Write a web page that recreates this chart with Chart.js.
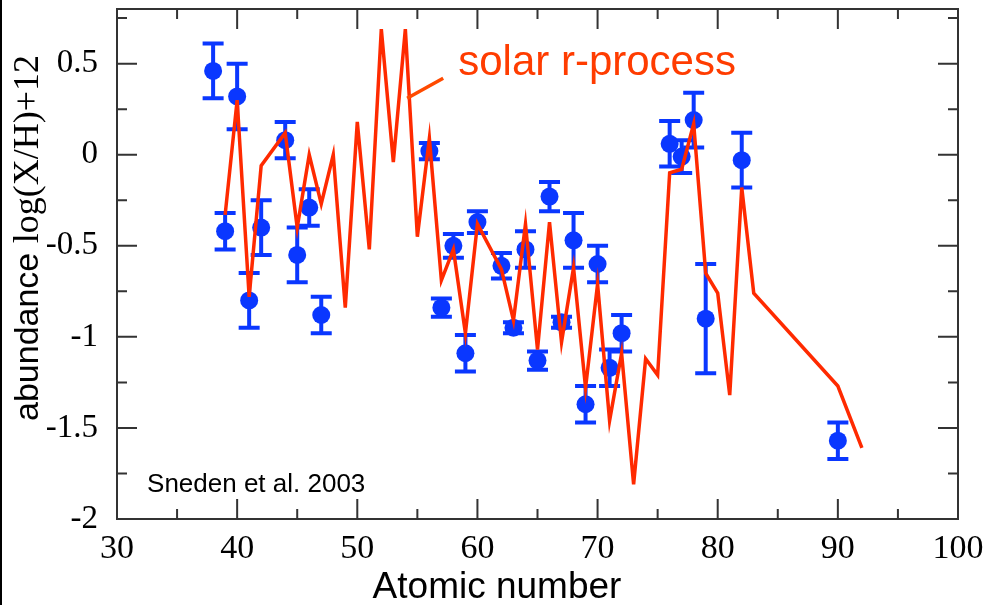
<!DOCTYPE html>
<html>
<head>
<meta charset="utf-8">
<script src="https://cdn.jsdelivr.net/npm/chart.js@4.4.1/dist/chart.umd.min.js"></script>
<style>
  body { margin: 0; background: #fff; }
  canvas { display: block; }
</style>
</head>
<body>
<canvas id="abundanceChart" width="990" height="605"></canvas>
<script>
// solar r-process pattern (red line)
const solarZ = [39, 40, 41, 42, 44, 45, 46, 47, 48, 49, 50, 51, 52, 53, 54, 55, 56, 57, 58, 59, 60,
  62, 63, 64, 65, 66, 67, 68, 69, 70, 71, 72, 73, 74, 75, 76, 77, 78, 79, 80, 81, 82, 83, 90, 92];
const solarVal = [-0.33, 0.30, -0.78, -0.06, 0.12, -0.40, 0.00, -0.27, 0.00, -0.84, 0.18, -0.52, 0.69, -0.04, 0.69, -0.45, 0.09, -0.69, -0.52, -0.98, -0.38,
  -0.63, -0.91, -0.38, -1.07, -0.37, -1.03, -0.62, -1.28, -0.71, -1.46, -1.09, -1.81, -1.12, -1.21, -0.10, -0.08, 0.17, -0.65, -0.76, -1.32, -0.18, -0.76, -1.27, -1.61];

// observed abundances (blue points with error bars)
const obsZ = [38, 39, 40, 41, 42, 44, 45, 46, 47, 56, 57, 58, 59, 60, 62, 63, 64, 65, 66, 67, 68, 69, 70, 71, 72, 76, 77, 78, 79, 82, 90];
const obsVal = [0.46, -0.42, 0.32, -0.80, -0.40, 0.08, -0.55, -0.29, -0.88, 0.02, -0.84, -0.50, -1.09, -0.37, -0.61, -0.95, -0.52, -1.13, -0.23, -0.92,
  -0.47, -1.37, -0.60, -1.17, -0.98, 0.06, -0.01, 0.19, -0.90, -0.03, -1.57];
const obsErr = [0.15, 0.10, 0.18, 0.15, 0.15, 0.10, 0.15, 0.10, 0.10, 0.045, 0.05, 0.065, 0.10, 0.06, 0.07, 0.03, 0.10, 0.05, 0.08, 0.03,
  0.15, 0.10, 0.10, 0.10, 0.10, 0.125, 0.09, 0.15, 0.30, 0.15, 0.10];

// axis ticks
const xTicks = [30, 40, 50, 60, 70, 80, 90, 100];
const xMinor = [35, 45, 55, 65, 75, 85, 95];
const yTicks = [-2, -1.5, -1, -0.5, 0, 0.5];
const yMinor = [-1.75, -1.25, -0.75, -0.25, 0.25, 0.75];

const RED = "#ff2a00";
const BLUE = "#0a37ff";
const SERIF = "'Liberation Serif', 'Times New Roman', serif";
const SANS = "'Liberation Sans', Arial, sans-serif";

const errorBars = {
  id: "errorBars",
  beforeDatasetDraw(chart, args) {
    if (args.index !== 1) return;
    const { ctx, scales: { x, y } } = chart;
    ctx.save();
    ctx.strokeStyle = BLUE;
    ctx.lineWidth = 4;
    obsZ.forEach((z, i) => {
      const px = x.getPixelForValue(z);
      const top = y.getPixelForValue(obsVal[i] + obsErr[i]);
      const bot = y.getPixelForValue(obsVal[i] - obsErr[i]);
      ctx.beginPath();
      ctx.moveTo(px, top);
      ctx.lineTo(px, bot);
      ctx.moveTo(px - 10.5, top);
      ctx.lineTo(px + 10.5, top);
      ctx.moveTo(px - 10.5, bot);
      ctx.lineTo(px + 10.5, bot);
      ctx.stroke();
    });
    ctx.restore();
  },
};

const frame = {
  id: "frame",
  afterDraw(chart) {
    const { ctx, chartArea: a, scales: { x, y } } = chart;
    ctx.save();
    ctx.strokeStyle = "#333";
    ctx.lineWidth = 2;
    ctx.strokeRect(a.left, a.top, a.right - a.left, a.bottom - a.top);
    ctx.beginPath();
    const xt = (v, len) => {
      const px = x.getPixelForValue(v);
      ctx.moveTo(px, a.bottom); ctx.lineTo(px, a.bottom - len);
      ctx.moveTo(px, a.top); ctx.lineTo(px, a.top + len);
    };
    const yt = (v, len) => {
      const py = y.getPixelForValue(v);
      ctx.moveTo(a.left, py); ctx.lineTo(a.left + len, py);
      ctx.moveTo(a.right, py); ctx.lineTo(a.right - len, py);
    };
    xTicks.forEach((v) => xt(v, 20));
    xMinor.forEach((v) => xt(v, 10));
    yTicks.forEach((v) => yt(v, 20));
    yMinor.forEach((v) => yt(v, 10));
    ctx.stroke();

    // left edge line of the picture
    ctx.fillStyle = "#000";
    ctx.fillRect(0, 0, 2, chart.height);

    // y axis title: sans + serif parts
    ctx.save();
    ctx.translate(38, 421);
    ctx.rotate(-Math.PI / 2);
    ctx.fillStyle = "#000";
    ctx.textBaseline = "alphabetic";
    ctx.font = "34px " + SANS;
    const part1 = "abundance ";
    ctx.fillText(part1, 0, 0);
    const w1 = ctx.measureText(part1).width;
    ctx.font = "36px " + SERIF;
    ctx.fillText("log(X/H)+12", w1, 0);
    ctx.restore();

    // x axis title
    ctx.fillStyle = "#000";
    ctx.font = "37px " + SANS;
    ctx.textAlign = "center";
    ctx.textBaseline = "alphabetic";
    ctx.fillText("Atomic number", 497, 598);

    // reference note
    ctx.textAlign = "left";
    ctx.font = "26px " + SANS;
    ctx.fillText("Sneden et al. 2003", x.getPixelForValue(32.5), y.getPixelForValue(-1.85));

    // solar r-process label and pointer
    ctx.fillStyle = "#ff3c00";
    ctx.font = "42px " + SANS;
    ctx.fillText("solar r-process", x.getPixelForValue(58.4), y.getPixelForValue(0.44));
    ctx.strokeStyle = "#ff4a00";
    ctx.lineWidth = 3.5;
    ctx.beginPath();
    ctx.moveTo(x.getPixelForValue(57.15), y.getPixelForValue(0.42));
    ctx.lineTo(x.getPixelForValue(54.15), y.getPixelForValue(0.31));
    ctx.stroke();
    ctx.restore();
  },
};

const ctx = document.getElementById("abundanceChart").getContext("2d");
const abundanceChart = new Chart(ctx, {
  type: "scatter",
  data: {
    datasets: [
      {
        label: "solar r-process",
        data: solarZ.map((z, i) => ({ x: z, y: solarVal[i] })),
        showLine: true,
        borderColor: RED,
        borderWidth: 3.5,
        pointRadius: 0,
        tension: 0,
      },
      {
        label: "Sneden et al. 2003",
        data: obsZ.map((z, i) => ({ x: z, y: obsVal[i] })),
        backgroundColor: BLUE,
        borderColor: BLUE,
        borderWidth: 0,
        pointRadius: 9,
      },
    ],
  },
  options: {
    responsive: false,
    animation: false,
    layout: { padding: { top: 8, right: 32, left: 0, bottom: 0 } },
    scales: {
      x: {
        type: "linear",
        min: 30,
        max: 100,
        grid: { display: false },
        border: { display: false },
        afterBuildTicks: (s) => { s.ticks = xTicks.map((v) => ({ value: v })); },
        afterFit: (s) => {
          s.height = 86;
          s.paddingLeft = 0;
          s.paddingRight = 0;
        },
        ticks: {
          color: "#000",
          padding: 2,
          maxRotation: 0,
          autoSkip: false,
          callback: (v) => String(v),
          font: { family: SERIF, size: 34 },
        },
      },
      y: {
        min: -2,
        max: 0.8,
        grid: { display: false },
        border: { display: false },
        afterBuildTicks: (s) => { s.ticks = yTicks.map((v) => ({ value: v })); },
        afterFit: (s) => {
          s.width = 117;
          s.paddingTop = 0;
          s.paddingBottom = 0;
        },
        ticks: {
          color: "#000",
          padding: 11,
          autoSkip: false,
          callback: (v) => String(v),
          font: { family: SERIF, size: 33 },
        },
      },
    },
    plugins: {
      legend: { display: false },
      tooltip: { enabled: false },
    },
  },
  plugins: [errorBars, frame],
});
</script>
</body>
</html>
